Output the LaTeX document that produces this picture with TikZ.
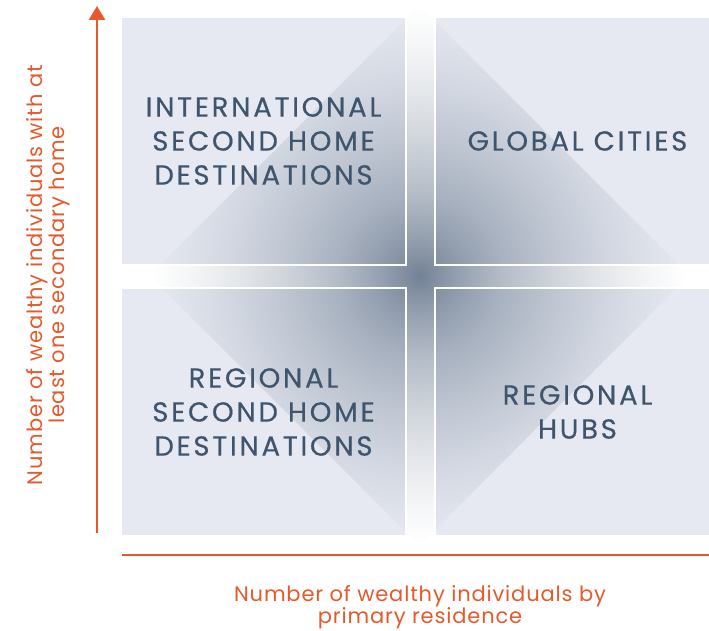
\documentclass[tikz,border=0pt]{standalone}
\usepackage{fontspec}
\setmainfont{Poppins}
\newfontfamily\quadfont[LetterSpace=10, FakeBold=0.4]{Poppins}
\newfontfamily\axisfont[LetterSpace=4]{Poppins}
\usetikzlibrary{positioning,backgrounds,fadings,arrows.meta}

\definecolor{quadfill}{HTML}{E6E9F1}
\definecolor{quadtext}{HTML}{3E556D}
\definecolor{axisorange}{HTML}{E5592B}
\definecolor{glowslate}{HTML}{738296}

\pgfdeclareradialshading{glowshade}{\pgfpoint{0bp}{0bp}}{color(0bp)=(white); color(7bp)=(white!76!black); color(15bp)=(white!54!black); color(25bp)=(white!34!black); color(34bp)=(white!19!black); color(43bp)=(white!7!black); color(50bp)=(black)}
\pgfdeclarefading{glow}{\pgfuseshading{glowshade}}
\pgfdeclarelayer{tint}
\pgfsetlayers{background,tint,main}

\begin{document}
\begin{tikzpicture}[x=1pt,y=-1pt,
        quad/.style={draw=white, line width=2pt, minimum width=285pt, minimum height=248pt,
            inner sep=0pt, text=quadtext, align=center, font=\quadfont\fontsize{27.5}{34}\selectfont},
        axis/.style={draw=axisorange, line width=2.8pt},
        axislabel/.style={text=axisorange, align=center, font=\axisfont\fontsize{21}{22.5}\selectfont}]
                \useasboundingbox (0,0) rectangle (709,631);
                \node[quad] (intl) at (263.5,141) {INTERNATIONAL\\SECOND HOME\\DESTINATIONS};
                \node[quad, right=27pt of intl] (global) {GLOBAL CITIES};
                \node[quad, below=21pt of intl] (regional) {REGIONAL\\SECOND HOME\\DESTINATIONS};
                \node[quad, right=27pt of regional] (hubs) {REGIONAL\\HUBS};
                \coordinate (mid) at (419.5,275.5);
                \begin{pgfonlayer}{background}
                    \foreach \q in {intl,global,regional,hubs}
                        \fill[quadfill] (\q.north west) rectangle (\q.south east);
                \end{pgfonlayer}
                \begin{pgfonlayer}{tint}
                    \fill[glowslate, path fading=glow, fit fading=false,
                        fading transform={shift={(mid)}, scale=5.38}]
                        (mid) ++(0,-270) -- ++(270,270) -- ++(-270,270) -- ++(-270,-270) -- cycle;
                \end{pgfonlayer}
                \coordinate (ybase) at (97,533);
                \coordinate (ytip) at (97,6);
                \coordinate (xbase) at (122,555);
                \coordinate (xend) at (712,555);
                \draw[axis, -{Triangle[width=16pt,length=14pt]}] (ybase) -- (ytip);
                \draw[axis] (xbase) -- (xend);
                \node[axislabel, rotate=90] (ylabel) at (48,275) {Number of wealthy individuals with at\\least one secondary home};
                \node[axislabel] (xlabel) at (420,607) {Number of wealthy individuals by\\primary residence};
            \end{tikzpicture}
\end{document}
